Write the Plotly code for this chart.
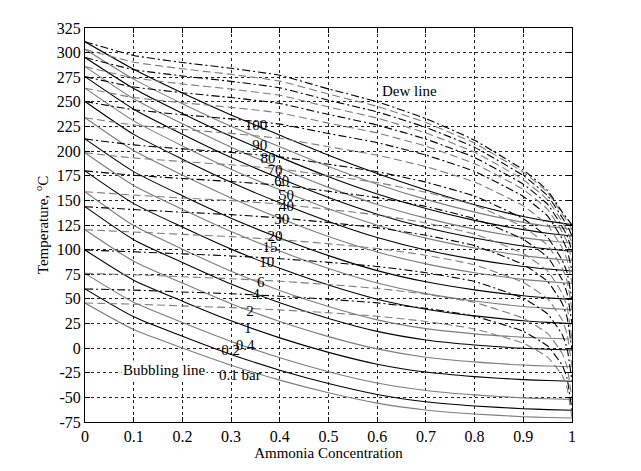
import plotly.graph_objects as go

# ---------------- data ----------------
pressures = ["0.1", "0.2", "0.4", "1", "2", "4", "6", "10", "15", "20",
             "30", "40", "50", "60", "70", "80", "90", "100"]

x_bubble = [0, 0.1, 0.2, 0.3, 0.4, 0.5, 0.6, 0.7, 0.8, 0.9, 0.95, 1.0]
x_dew = [0, 0.1, 0.2, 0.3, 0.4, 0.5, 0.6, 0.7, 0.8, 0.9, 0.95, 0.98, 0.99, 1.0]

# bubbling-line temperatures (deg C) per pressure (bar)
bub_0_1 = [45.8, 18.9, 0.2, -17.3, -32.5, -45.3, -55.8, -62.8, -66.9, -69.6, -70.4, -71.0]
bub_0_2 = [60.1, 31.8, 12.1, -6.4, -22.4, -35.9, -47.0, -54.4, -58.7, -61.5, -62.4, -63.0]
bub_0_4 = [75.9, 46.5, 26.0, 6.8, -9.8, -23.9, -35.4, -43.0, -47.5, -50.5, -51.4, -52.0]
bub_1 = [99.6, 69.0, 47.7, 27.7, 10.4, -4.3, -16.3, -24.3, -28.9, -32.0, -32.9, -33.6]
bub_2 = [120.2, 88.2, 66.0, 45.1, 27.0, 11.7, -0.8, -9.2, -14.0, -17.2, -18.2, -18.9]
bub_4 = [143.6, 110.1, 86.9, 65.0, 46.1, 30.1, 17.0, 8.3, 3.2, -0.2, -1.2, -1.9]
bub_6 = [158.8, 124.4, 100.5, 78.1, 58.6, 42.2, 28.7, 19.8, 14.5, 11.1, 10.0, 9.3]
bub_10 = [179.9, 146.7, 122.9, 100.5, 81.0, 64.0, 49.7, 39.5, 32.7, 27.8, 26.1, 24.9]
bub_15 = [198.3, 165.1, 140.9, 118.3, 98.5, 80.9, 66.2, 55.3, 47.8, 42.3, 40.4, 39.0]
bub_20 = [212.4, 179.2, 154.7, 131.9, 111.8, 93.9, 78.7, 67.3, 59.1, 53.1, 51.0, 49.4]
bub_30 = [233.9, 200.6, 175.7, 152.4, 131.9, 113.4, 97.6, 85.5, 76.5, 69.8, 67.5, 65.6]
bub_40 = [250.4, 217.0, 191.8, 168.3, 147.5, 128.6, 112.3, 99.6, 90.1, 82.9, 80.3, 78.3]
bub_50 = [263.9, 230.7, 205.3, 181.7, 160.7, 141.4, 124.8, 111.7, 101.6, 93.9, 91.1, 88.9]
bub_60 = [275.6, 242.6, 217.2, 193.5, 172.4, 152.9, 136.0, 122.4, 111.8, 103.7, 100.7, 98.3]
bub_70 = [285.8, 253.2, 227.7, 204.0, 182.9, 163.2, 145.9, 132.0, 120.8, 112.2, 109.0, 106.5]
bub_80 = [295.0, 263.5, 238.3, 215.0, 193.9, 174.0, 156.5, 141.8, 129.7, 120.3, 116.7, 113.9]
bub_90 = [303.4, 273.1, 248.2, 225.2, 204.4, 184.3, 166.4, 151.0, 138.1, 127.7, 123.8, 120.7]
bub_100 = [311.0, 283.1, 259.0, 236.7, 216.2, 195.8, 177.2, 160.5, 145.6, 133.6, 128.9, 125.2]

# dew-line temperatures (deg C) per pressure (bar)
dew_0_1 = [45.8, 44.6, 42.9, 41.1, 38.8, 35.9, 32.4, 27.1, 19.5, 4.9, -9.1, -27.8, -40.6, -71.0]
dew_0_2 = [60.1, 58.9, 57.0, 55.2, 52.7, 49.6, 45.9, 40.4, 32.4, 17.0, 2.2, -17.5, -31.0, -63.0]
dew_0_4 = [75.9, 74.5, 72.5, 70.5, 67.9, 64.6, 60.6, 54.8, 46.3, 30.2, 14.9, -5.4, -19.3, -52.0]
dew_1 = [99.6, 97.8, 95.7, 93.6, 90.8, 87.1, 82.9, 76.6, 67.6, 50.6, 34.7, 13.7, -0.5, -33.6]
dew_2 = [120.2, 117.9, 115.5, 113.2, 110.1, 106.0, 101.2, 94.3, 84.5, 66.6, 50.1, 28.4, 14.1, -18.9]
dew_4 = [143.6, 140.7, 138.0, 135.5, 132.2, 127.5, 122.2, 114.6, 104.0, 85.0, 67.7, 45.4, 31.0, -1.9]
dew_6 = [158.8, 155.4, 152.4, 149.7, 146.2, 140.9, 135.2, 127.1, 115.8, 96.0, 78.3, 55.6, 41.4, 9.3]
dew_10 = [179.9, 175.5, 172.2, 169.1, 165.3, 159.2, 152.8, 143.8, 131.4, 110.5, 92.2, 69.2, 55.4, 24.9]
dew_15 = [198.3, 193.1, 189.4, 186.1, 181.9, 175.1, 168.1, 158.3, 145.0, 123.0, 104.3, 81.2, 67.9, 39.0]
dew_20 = [212.4, 206.3, 202.3, 198.7, 194.2, 186.7, 179.1, 168.5, 154.3, 131.4, 112.3, 89.1, 76.4, 49.4]
dew_30 = [233.9, 226.5, 222.0, 218.0, 213.0, 204.4, 195.9, 184.2, 168.6, 144.4, 124.8, 101.5, 89.7, 65.6]
dew_40 = [250.4, 242.0, 237.0, 232.7, 227.4, 217.9, 208.6, 196.0, 179.4, 154.0, 134.1, 110.9, 99.8, 78.3]
dew_50 = [263.9, 254.4, 249.1, 244.4, 238.8, 228.4, 218.4, 205.0, 187.3, 161.0, 140.8, 117.8, 107.6, 88.9]
dew_60 = [275.6, 265.1, 259.3, 254.4, 248.4, 237.2, 226.5, 212.2, 193.5, 166.4, 146.0, 123.3, 114.1, 98.3]
dew_70 = [285.8, 274.3, 268.2, 263.0, 256.7, 244.8, 233.5, 218.4, 198.9, 171.0, 150.5, 128.1, 119.6, 106.5]
dew_80 = [295.0, 282.7, 276.3, 270.8, 264.3, 251.7, 239.8, 224.1, 203.8, 175.2, 154.6, 132.4, 124.7, 113.9]
dew_90 = [303.4, 290.3, 283.6, 277.9, 271.1, 257.9, 245.4, 229.0, 208.0, 178.7, 158.0, 136.1, 129.2, 120.7]
dew_100 = [311.0, 297.1, 290.0, 284.1, 277.0, 263.1, 250.1, 233.0, 211.0, 180.9, 159.9, 138.0, 131.7, 125.2]

# pressure labels and their positions
label_texts = ["100", "90", "80", "70", "60", "50", "40", "30", "20", "15",
               "10", "6", "4", "2", "1", "0.4", "0.2", "0.1 bar"]
label_x = [0.351, 0.359, 0.376, 0.390, 0.404, 0.414, 0.414, 0.404, 0.390, 0.380,
           0.373, 0.361, 0.351, 0.339, 0.334, 0.329, 0.299, 0.318]
label_y = [225, 205, 191.4, 179.7, 168, 154.6, 142.9, 129.4, 112.7, 101,
           85.8, 65.7, 54, 36.5, 18.7, 2, -3, -29]

x_ticks = [0, 0.1, 0.2, 0.3, 0.4, 0.5, 0.6, 0.7, 0.8, 0.9, 1]
x_tick_text = ["0", "0.1", "0.2", "0.3", "0.4", "0.5", "0.6", "0.7", "0.8", "0.9", "1"]
y_ticks = [-75, -50, -25, 0, 25, 50, 75, 100, 125, 150, 175, 200, 225, 250, 275, 300, 325]
y_tick_text = ["-75", "-50", "-25", "0", "25", "50", "75", "100", "125", "150",
               "175", "200", "225", "250", "275", "300", "325"]

# ---------------- figure ----------------
bubble_sets = [bub_0_1, bub_0_2, bub_0_4, bub_1, bub_2, bub_4, bub_6, bub_10, bub_15,
               bub_20, bub_30, bub_40, bub_50, bub_60, bub_70, bub_80, bub_90, bub_100]
dew_sets = [dew_0_1, dew_0_2, dew_0_4, dew_1, dew_2, dew_4, dew_6, dew_10, dew_15,
            dew_20, dew_30, dew_40, dew_50, dew_60, dew_70, dew_80, dew_90, dew_100]

GRAY = "#7d7d7d"
BLACK = "#000000"
SERIF = "Liberation Serif"

fig = go.Figure()
for i, (p, tb) in enumerate(zip(pressures, bubble_sets)):
    fig.add_trace(go.Scatter(
        x=x_bubble, y=tb, mode="lines", name=f"bubble {p} bar",
        line=dict(color=GRAY if i % 2 == 0 else BLACK, width=1.1, shape="spline", smoothing=0.6),
        showlegend=False, hoverinfo="skip"))
for i, (p, td) in enumerate(zip(pressures, dew_sets)):
    fig.add_trace(go.Scatter(
        x=x_dew, y=td, mode="lines", name=f"dew {p} bar",
        line=dict(color=GRAY if i % 2 == 0 else BLACK, width=1.1,
                  dash="8px,4px" if i % 2 == 0 else "8px,3px,2px,3px",
                  shape="spline", smoothing=0.4),
        showlegend=False, hoverinfo="skip"))

fig.add_trace(go.Scatter(
    x=label_x, y=label_y, mode="text", text=label_texts,
    textfont=dict(family=SERIF, size=15, color="black"),
    showlegend=False, hoverinfo="skip"))

fig.add_annotation(x=0.163, y=-22, text="Bubbling line", showarrow=False,
                   font=dict(family=SERIF, size=15, color="black"), bgcolor="white")
fig.add_annotation(x=0.666, y=261, text="Dew line", showarrow=False,
                   font=dict(family=SERIF, size=15, color="black"), bgcolor="white")

axis_common = dict(
    showline=True, linecolor="black", linewidth=1, mirror="ticks",
    ticks="inside", ticklen=5, tickcolor="black",
    showgrid=True, gridcolor="#222222", gridwidth=1, griddash="dot",
    zeroline=False,
    tickfont=dict(family=SERIF, size=16, color="black"),
)

fig.update_xaxes(range=[0, 1], tickvals=x_ticks, ticktext=x_tick_text,
                 title=dict(text="Ammonia Concentration", standoff=2,
                            font=dict(family=SERIF, size=15, color="black")),
                 **axis_common)
fig.update_yaxes(range=[-75, 325], tickvals=y_ticks, ticktext=y_tick_text,
                 title=dict(text="Temperature, <sup>o</sup>C", standoff=4,
                            font=dict(family=SERIF, size=15, color="black")),
                 **axis_common)

fig.update_layout(
    width=641, height=471,
    margin=dict(l=77, r=77, t=16, b=57),
    paper_bgcolor="white", plot_bgcolor="white",
    showlegend=False,
)

fig.write_html("out.html")
